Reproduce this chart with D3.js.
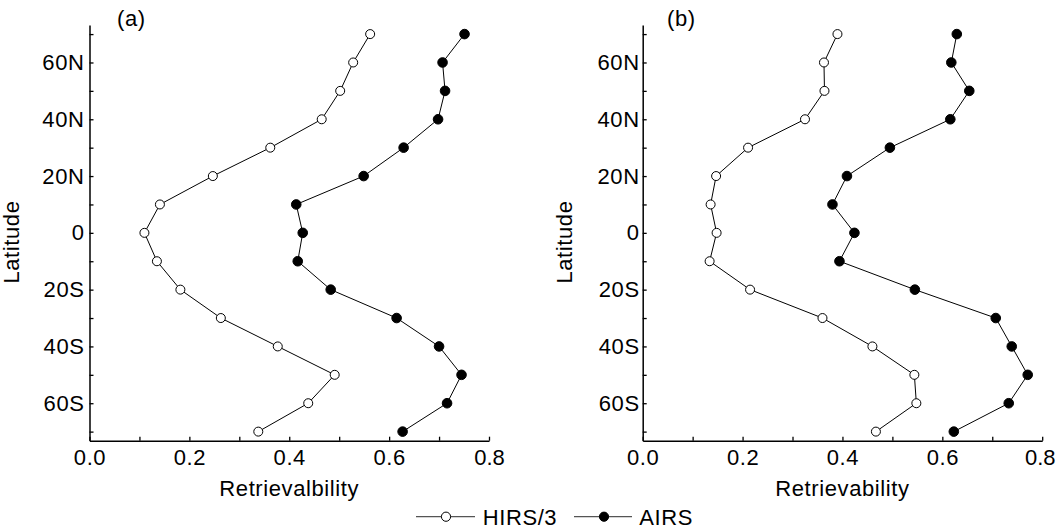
<!DOCTYPE html>
<html>
<head>
<meta charset="utf-8">
<script src="https://cdn.jsdelivr.net/npm/d3@7"></script>
<style>
  html, body { margin: 0; padding: 0; background: #fff; }
  svg { display: block; font-family: "Liberation Sans", Arial, sans-serif; }
  svg text { letter-spacing: 0.6px; }
</style>
</head>
<body>
<svg id="chart" width="1057" height="529"></svg>
<script>
// ---- Data ----
const latitudes = [70, 60, 50, 40, 30, 20, 10, 0, -10, -20, -30, -40, -50, -60, -70];

const hirsA = [0.562, 0.528, 0.502, 0.465, 0.362, 0.247, 0.141, 0.110, 0.135, 0.182, 0.263, 0.377, 0.491, 0.438, 0.338];
const airsA = [0.751, 0.707, 0.712, 0.698, 0.629, 0.549, 0.414, 0.427, 0.417, 0.483, 0.615, 0.700, 0.745, 0.716, 0.627];

const hirsB = [0.390, 0.363, 0.364, 0.325, 0.211, 0.147, 0.136, 0.148, 0.134, 0.215, 0.360, 0.460, 0.544, 0.548, 0.467];
const airsB = [0.629, 0.618, 0.654, 0.616, 0.495, 0.409, 0.380, 0.424, 0.394, 0.545, 0.707, 0.739, 0.771, 0.733, 0.623];

const yTickValues = [70, 60, 50, 40, 30, 20, 10, 0, -10, -20, -30, -40, -50, -60, -70];
const yTickLabels = {60: "60N", 40: "40N", 20: "20N", 0: "0", "-20": "20S", "-40": "40S", "-60": "60S"};
const xTickValues = [0, 0.1, 0.2, 0.3, 0.4, 0.5, 0.6, 0.7, 0.8];
const xLabelTicks = [0, 0.2, 0.4, 0.6, 0.8];

const seriesNames = ["HIRS/3", "AIRS"];
const panelLabels = ["(a)", "(b)"];
const xTitles = ["Retrievalbility", "Retrievability"];
const yTitle = "Latitude";

// ---- Layout ----
const svg = d3.select("#chart");
const FS = 22;
const yTop = 25, yBottom = 440.7;
const panels = [
  {left: 89.5, right: 489, hirs: hirsA, airs: airsA, label: panelLabels[0], xt: xTitles[0], labelX: 117},
  {left: 642.7, right: 1042.2, hirs: hirsB, airs: airsB, label: panelLabels[1], xt: xTitles[1], labelX: 667}
];

const y = d3.scaleLinear().domain([-73.2, 73.2]).range([yBottom, yTop]);

panels.forEach((p, i) => {
  const g = svg.append("g");
  const x = d3.scaleLinear().domain([0, 0.8]).range([p.left, p.right]);

  // y axis
  const yAxis = d3.axisLeft(y)
    .tickValues(yTickValues)
    .tickSizeInner(-4)
    .tickSizeOuter(0)
    .tickPadding(i === 0 ? 5 : 3)
    .tickFormat(d => yTickLabels[d] !== undefined ? yTickLabels[d] : "");
  const ya = g.append("g").attr("transform", `translate(${p.left},0)`).call(yAxis);

  // x axis
  const xAxis = d3.axisBottom(x)
    .tickValues(xTickValues)
    .tickSizeInner(-4)
    .tickSizeOuter(0)
    .tickPadding(9)
    .tickFormat(d => xLabelTicks.some(v => Math.abs(v - d) < 1e-9) ? d3.format(".1f")(d) : "");
  const xa = g.append("g").attr("transform", `translate(0,${yBottom})`).call(xAxis);

  [ya, xa].forEach(a => {
    a.selectAll("path.domain").attr("stroke", "#000").attr("stroke-width", 1.5);
    a.selectAll(".tick line").attr("stroke", "#000").attr("stroke-width", 1.3);
    a.selectAll(".tick text").attr("fill", "#000").style("font-size", FS + "px")
      .style("font-family", '"Liberation Sans", Arial, sans-serif');
  });
  // keep the last x label inside the page
  xa.selectAll(".tick text").filter(d => Math.abs(d - 0.8) < 1e-9)
    .style("letter-spacing", "0px").attr("dx", i === 1 ? -2.5 : 0);

  // lines
  const lineGen = (vals) => d3.line()
    .x((d, k) => x(vals[k]))
    .y((d, k) => y(latitudes[k]))(latitudes);

  g.append("path").attr("d", lineGen(p.hirs)).attr("fill", "none").attr("stroke", "#000").attr("stroke-width", 1);
  g.append("path").attr("d", lineGen(p.airs)).attr("fill", "none").attr("stroke", "#000").attr("stroke-width", 1);

  g.selectAll("circle.h").data(p.hirs).enter().append("circle")
    .attr("cx", d => x(d)).attr("cy", (d, k) => y(latitudes[k]))
    .attr("r", 4.5).attr("fill", "#fff").attr("stroke", "#000").attr("stroke-width", 1);
  g.selectAll("circle.a").data(p.airs).enter().append("circle")
    .attr("cx", d => x(d)).attr("cy", (d, k) => y(latitudes[k]))
    .attr("r", 4.8).attr("fill", "#000").attr("stroke", "#000").attr("stroke-width", 1);

  // panel label
  g.append("text").attr("x", p.labelX).attr("y", 26).style("font-size", FS + "px").text(p.label);

  // x title
  g.append("text").attr("x", (p.left + p.right) / 2).attr("y", 496)
    .attr("text-anchor", "middle").style("font-size", FS + "px").text(p.xt);

  // y title
  const ytx = p.left - 70.5;
  g.append("text").attr("transform", `translate(${ytx},242) rotate(-90)`)
    .attr("text-anchor", "middle").style("font-size", FS + "px").text(yTitle);
});

// legend
const legY = 516.7;
const legendItems = [
  {name: seriesNames[0], x1: 416, x2: 475, cx: 446, tx: 482.7, fill: "#fff"},
  {name: seriesNames[1], x1: 574, x2: 632, cx: 604, tx: 639.3, fill: "#000"}
];
const lg = svg.append("g");
legendItems.forEach(it => {
  lg.append("line").attr("x1", it.x1).attr("x2", it.x2).attr("y1", legY).attr("y2", legY)
    .attr("stroke", "#555").attr("stroke-width", 1.3);
  lg.append("circle").attr("cx", it.cx).attr("cy", legY).attr("r", 4.6)
    .attr("fill", it.fill).attr("stroke", "#000").attr("stroke-width", 1);
  lg.append("text").attr("x", it.tx).attr("y", legY + 8).style("font-size", FS + "px").text(it.name);
});
</script>
</body>
</html>
